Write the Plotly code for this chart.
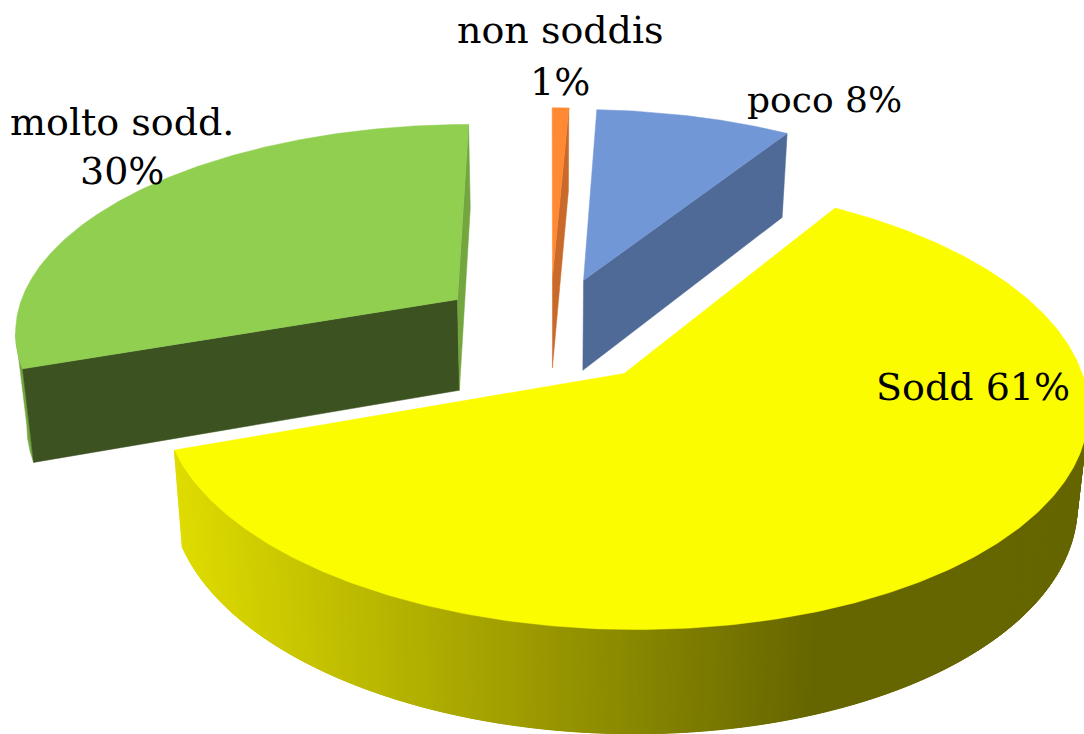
import numpy as np
import plotly.graph_objects as go

# Data (unrounded shares behind the printed percentages)
categories = ["non soddis", "poco", "Sodd", "molto sodd."]
values = [0.7, 8.3, 60.6, 30.4]
label_texts = ["non soddis<br>1%", "poco 8%", "Sodd 61%", "molto sodd.<br>30%"]

# Style per slice
top_colors = ["#FF8A33", "#7297D6", "#FCFC00", "#90CF50"]
face_colors = ["#C96A2B", "#4F6A96", "#666600", "#3C5220"]
rim_colors = ["#C96A2B", "#4F6A96", None, "#74A63F"]
label_pos = [(560, 56), (824, 99), (973, 387), (122, 146)]
line_gap = [52, 0, 0, 49]
label_size = [38, 36, 38, 38]

# Camera of the tilted pie
CX, CY, RX, RY, K, H, EXPLODE, BOTTOM = 550, 330, 445, 207.3, 0.139, 92, 0.26, 0.979


def project(u, v, bottom=False):
    p = 1 / (1 + K * v)
    s = BOTTOM if bottom else 1.0
    x = CX + RX * u * p * s
    y = CY - RY * v * p * s + (H * p if bottom else 0)
    return x, y


def ring(t, off, bottom=False):
    return project(off[0] + np.sin(t), off[1] + np.cos(t), bottom)


def add_poly(fig, xs, ys, color, width=0.5):
    fig.add_trace(go.Scatter(x=list(xs), y=list(ys), mode="lines", fill="toself",
                             fillcolor=color, line=dict(color=color, width=width),
                             hoverinfo="skip", showlegend=False))


def radial(fig, t, off, color):
    ax, ay = project(off[0], off[1])
    bx, by = project(off[0], off[1], True)
    ox, oy = ring(t, off)
    qx, qy = ring(t, off, True)
    add_poly(fig, [ax, ox, qx, bx, ax], [ay, oy, qy, by, ay], color)


def yellow_rim_color(x):
    f = min(max((x - 178) / (820 - 178), 0), 1)
    return "rgb(%d,%d,0)" % (223 + (102 - 223) * f, 220 + (102 - 220) * f)


fig = go.Figure()
edges = np.cumsum([0] + values) / sum(values) * 2 * np.pi
slices = []
for i in range(len(values)):
    a, b = edges[i], edges[i + 1]
    mid = (a + b) / 2
    slices.append((i, a, b, (EXPLODE * np.sin(mid), EXPLODE * np.cos(mid))))

for i, a, b, off in [slices[0], slices[1], slices[3], slices[2]]:
    t = np.linspace(a, b, 361)
    x_top, _ = ring(t, off)
    if i == 2:
        # only the part of the rim turned towards the viewer, painted right to left
        start = int(np.argmax(x_top))
        for j in range(start, len(t) - 1):
            seg = t[j:min(j + 4, len(t))]
            x0, y0 = ring(seg, off)
            x1, y1 = ring(seg[::-1], off, True)
            add_poly(fig, np.r_[x0, x1, x0[0]], np.r_[y0, y1, y0[0]],
                     yellow_rim_color(x0[0]))
    elif i == 3:
        end = int(np.argmin(x_top))
        seg = t[:end + 1]
        x0, y0 = ring(seg, off)
        x1, y1 = ring(seg[::-1], off, True)
        add_poly(fig, np.r_[x0, x1, x0[0]], np.r_[y0, y1, y0[0]], rim_colors[i])
        radial(fig, a, off, face_colors[i])
        radial(fig, b, off, rim_colors[i])
    else:
        radial(fig, b, off, face_colors[i])
    ax, ay = project(off[0], off[1])
    x0, y0 = ring(t, off)
    add_poly(fig, np.r_[ax, x0, ax], np.r_[ay, y0, ay], top_colors[i])

for text, (x, y), gap, size in zip(label_texts, label_pos, line_gap, label_size):
    lines = text.split("<br>")
    for n, line in enumerate(lines):
        fig.add_annotation(x=x, y=y + (n - (len(lines) - 1) / 2) * gap, text=line, showarrow=False,
                           xanchor="center", yanchor="middle",
                           font=dict(family="DejaVu Serif", size=size, color="#000000"), align="center")

fig.update_xaxes(range=[0, 1084], visible=False, fixedrange=True)
fig.update_yaxes(range=[734, 0], visible=False, fixedrange=True)
fig.update_layout(width=1084, height=734, margin=dict(l=0, r=0, t=0, b=0),
                  paper_bgcolor="white", plot_bgcolor="white", showlegend=False)
fig.write_html("out.html", config={"displayModeBar": False},
               post_script="document.body.style.margin='0';document.documentElement.style.overflow='hidden';")
